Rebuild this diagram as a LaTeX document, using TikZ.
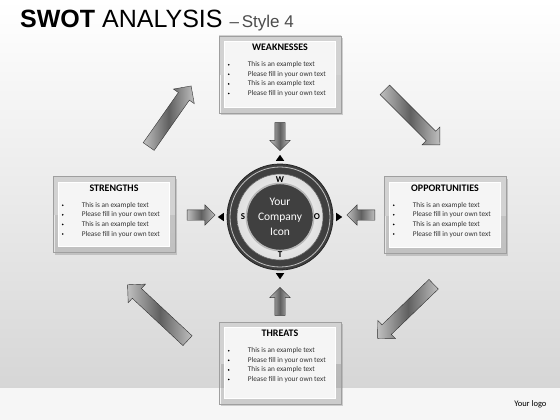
\documentclass[tikz,border=0pt]{standalone}
\usepackage{fontspec}
\setmainfont{Carlito}
\newfontfamily\headfont{Liberation Sans}
\usetikzlibrary{positioning,calc,shapes.arrows,shapes.geometric,shadows}

\tikzset{
	swotbox/.style={rectangle, draw=gray!75, line width=.6pt, top color=gray!12, bottom color=gray!35,
		minimum width=122pt, drop shadow={shadow xshift=2pt, shadow yshift=-2pt, opacity=.35}},
	boxtitle/.style={font=\fontsize{10}{12}\selectfont\bfseries, inner sep=0pt},
	boxline/.style={anchor=base west, inner sep=0pt, text=black!80, font=\fontsize{7.3}{9}\selectfont},
	blockarrow/.style={single arrow, single arrow head extend=5pt, inner xsep=0pt, inner ysep=5pt,
		minimum height=28pt, left color=gray!50, right color=gray!50, middle color=gray!75!black, draw=gray!40!black, line width=.4pt},
	bigarrow/.style={blockarrow, single arrow head extend=6pt, inner ysep=6.5pt},
	pointer/.style={isosceles triangle, isosceles triangle apex angle=70, fill=black, inner sep=0pt, minimum size=6pt},
	compass/.style={font=\fontsize{9}{10}\selectfont\bfseries, inner sep=0pt}
}

\begin{document}
\begin{tikzpicture}[x=1pt, y=-1pt]
	\useasboundingbox (0,0) rectangle (560,420);
	% backdrop
	\shade[top color=white, middle color=gray!7, bottom color=gray!32] (0,0) rectangle (560,388);
	\fill[gray!7] (0,388) rectangle (560,420);

	% heading
	\node[anchor=base west, inner sep=0pt] (heading) at (20,28)
		{\headfont\fontsize{25}{28}\selectfont\textbf{SWOT} ANALYSIS {\fontsize{17}{20}\selectfont\color{black!70}–\,Style 4}};

	% the four boxes
	\foreach \nm/\pos/\ht/\ttl in {weak/{280,74.5}/77/WEAKNESSES, str/{114,214.5}/76/STRENGTHS,
			opp/{445,215}/77/OPPORTUNITIES, thr/{280,363}/82/THREATS} {
		\node[swotbox, minimum height=\ht pt] (\nm) at (\pos) {};
		\draw[white, line width=.8pt, fill=gray!8] ($(\nm.north west)+(6,6)$) rectangle ($(\nm.south east)+(-6,-6)$);
		\node[boxtitle] (\nm-title) at ($(\nm.north)+(0,15)$) {\ttl};
		\foreach \i/\txt in {0/This is an example text, 1/Please fill in your own text,
				2/This is an example text, 3/Please fill in your own text} {
			\fill ($(\nm.west |- \nm-title.center)+(10,14+9.6*\i)$) circle [radius=.9];
			\node[boxline] at ($(\nm.west |- \nm-title.center)+(29,16+9.6*\i)$) {\txt};
		}
	}

	% company icon
	\node[circle, minimum size=106pt, fill=black!75, draw=black!85, line width=.8pt] (ring) at (280,217) {};
	\draw[gray!50, line width=.8pt] (ring) circle [radius=50];
	\node[circle, minimum size=86pt, inner color=white, outer color=gray!25, draw=black!60, line width=.6pt] (band) at (ring) {};
	\node[circle, minimum size=66pt, fill=black!75, draw=gray!55, line width=1.6pt, text=white, align=center,
		font=\fontsize{11.5}{15}\selectfont] (hub) at (ring) {Your\\Company\\Icon};
	\node[compass] (w) at ([yshift=37pt]ring.center) {W};
	\node[compass] (s) at ([xshift=-37pt]ring.center) {S};
	\node[compass] (o) at ([xshift=37pt]ring.center) {O};
	\node[compass] (t) at ([yshift=-38pt]ring.center) {T};
	\node[pointer, rotate=90] (ptop) at ([yshift=5pt]ring.north) {};
	\node[pointer, rotate=-90] (pbot) at ([yshift=-5pt]ring.south) {};
	\node[pointer, rotate=180] (pleft) at ([xshift=-5pt]ring.west) {};
	\node[pointer] (pright) at ([xshift=5pt]ring.east) {};

	% arrows into the icon
	\node[blockarrow, rotate=-90] (inweak) at (280,134) {};
	\node[blockarrow, rotate=90] (inthr) at (280,304) {};
	\node[blockarrow] (instr) at (198.5,215) {};
	\node[blockarrow, rotate=180] (inopp) at (363.5,215) {};

	% arrows going round
	\node[bigarrow, minimum height=74pt, rotate=55] (sw) at (168,119) {};
	\node[bigarrow, minimum height=78pt, rotate=-45] (wo) at (410,115) {};
	\node[bigarrow, minimum height=78pt, rotate=-136] (ot) at (408,309) {};
	\node[bigarrow, minimum height=82pt, rotate=137] (ts) at (160,315) {};

	\node[font=\fontsize{8.5}{10}\selectfont, anchor=east] (logo) at (550,404) {Your logo};
\end{tikzpicture}
\end{document}
